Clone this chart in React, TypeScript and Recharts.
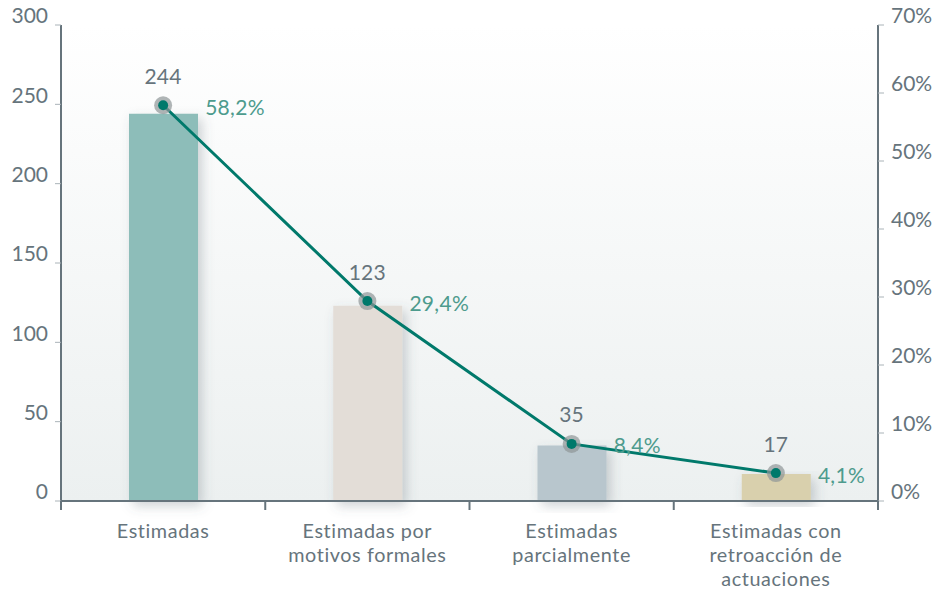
import React from 'react'
import {
  ComposedChart,
  Bar,
  Line,
  XAxis,
  YAxis,
  CartesianGrid,
  Cell,
  LabelList,
} from 'recharts'

const categories = [
  ['Estimadas'],
  ['Estimadas por', 'motivos formales'],
  ['Estimadas', 'parcialmente'],
  ['Estimadas con', 'retroacción de', 'actuaciones'],
]
const counts = [244, 123, 35, 17]
const shares = [58.2, 29.4, 8.4, 4.1]
const barColors = ['#8dbdb9', '#e3ddd7', '#b8c6cd', '#d9d0ad']
const leftTicks = [0, 50, 100, 150, 200, 250, 300]
const rightTicks = [0, 10, 20, 30, 40, 50, 60, 70]

const data = categories.map((lines, i) => ({
  name: lines.join(' '),
  lines,
  count: counts[i],
  share: shares[i],
}))

const AXIS = '#66747c'
const TEXT = '#66747c'
const TEAL = '#00796b'
const PCT = '#4d9b8d'
const FONT = 'Lato, "Open Sans", sans-serif'
const FS = 21

function CategoryTick(props: any) {
  const { x, y, payload, index } = props
  const half = payload?.offset ?? 102
  const row = data[index]
  return (
    <g>
      <line x1={x - half} y1={y - 8} x2={x - half} y2={y + 1} stroke={AXIS} strokeWidth={2} />
      {index === data.length - 1 && (
        <line x1={x + half} y1={y - 8} x2={x + half} y2={y + 1} stroke={AXIS} strokeWidth={2} />
      )}
      {row.lines.map((l: string, k: number) => (
        <text
          key={k}
          x={x}
          y={y + 29 + k * 24}
          textAnchor="middle"
          fill={TEXT}
          fontSize={19.8}
          letterSpacing={0.6}
          fontFamily={FONT}
        >
          {l}
        </text>
      ))}
    </g>
  )
}

function ShareDot(props: any) {
  const { cx, cy } = props
  if (cx == null || cy == null) return null
  return (
    <g>
      <circle cx={cx} cy={cy} r={9} fill="#8f9597" fillOpacity={0.7} />
      <circle cx={cx} cy={cy} r={5} fill={TEAL} />
    </g>
  )
}

function PointLabels(props: any) {
  const { x, y, index } = props
  const row = data[index]
  return (
    <g fontFamily={FONT} fontSize={FS} letterSpacing={0.3}>
      <text x={x} y={y - 30} textAnchor="middle" dominantBaseline="central" fill={TEXT}>
        {row.count}
      </text>
      <text x={x + 42} y={y + 1} textAnchor="start" dominantBaseline="central" fill={PCT}>
        {row.share.toFixed(1).replace('.', ',')}%
      </text>
    </g>
  )
}

export default function App() {
  return (
    <div style={{ width: 938, height: 594, background: '#ffffff' }}>
      <style>{'body{margin:0}'}</style>
      <ComposedChart
        width={938}
        height={594}
        data={data}
        margin={{ top: 25, right: 0, bottom: 0, left: 0 }}
      >
        <defs>
          <linearGradient id="plotBg" x1="0" y1="0" x2="0" y2="1">
            <stop offset="0%" stopColor="#ffffff" />
            <stop offset="100%" stopColor="#ecf0f0" />
          </linearGradient>
          <filter id="barShadow" x="-30%" y="-10%" width="160%" height="130%">
            <feDropShadow dx={4} dy={5} stdDeviation={6} floodColor="#55606a" floodOpacity={0.28} />
          </filter>
        </defs>
        <CartesianGrid horizontal={false} vertical={false} fill="url(#plotBg)" />
        <XAxis
          dataKey="name"
          height={93}
          interval={0}
          axisLine={{ stroke: AXIS, strokeWidth: 2 }}
          tickLine={false}
          tick={<CategoryTick />}
        />
        <YAxis
          yAxisId="left"
          width={61}
          domain={[0, 300]}
          ticks={leftTicks}
          interval={0}
          axisLine={{ stroke: AXIS, strokeWidth: 2 }}
          tickLine={{ stroke: '#aab3b8' }}
          tickSize={6}
          tickMargin={7}
          tick={{ fill: TEXT, fontSize: FS, fontFamily: FONT, dy: -9 }}
        />
        <YAxis
          yAxisId="right"
          orientation="right"
          width={60}
          domain={[0, 70]}
          ticks={rightTicks}
          interval={0}
          axisLine={{ stroke: AXIS, strokeWidth: 2 }}
          tickLine={{ stroke: '#aab3b8' }}
          tickSize={6}
          tickMargin={7}
          tickFormatter={(v: number) => `${v}%`}
          tick={{ fill: TEXT, fontSize: FS, fontFamily: FONT, dy: -9 }}
        />
        <Bar yAxisId="left" dataKey="count" barSize={69} isAnimationActive={false} filter="url(#barShadow)">
          {data.map((_, i) => (
            <Cell key={i} fill={barColors[i]} />
          ))}
        </Bar>
        <Line
          yAxisId="right"
          dataKey="share"
          type="linear"
          stroke={TEAL}
          strokeWidth={3}
          dot={<ShareDot />}
          activeDot={false}
          isAnimationActive={false}
        >
          <LabelList dataKey="share" content={<PointLabels />} />
        </Line>
      </ComposedChart>
    </div>
  )
}
